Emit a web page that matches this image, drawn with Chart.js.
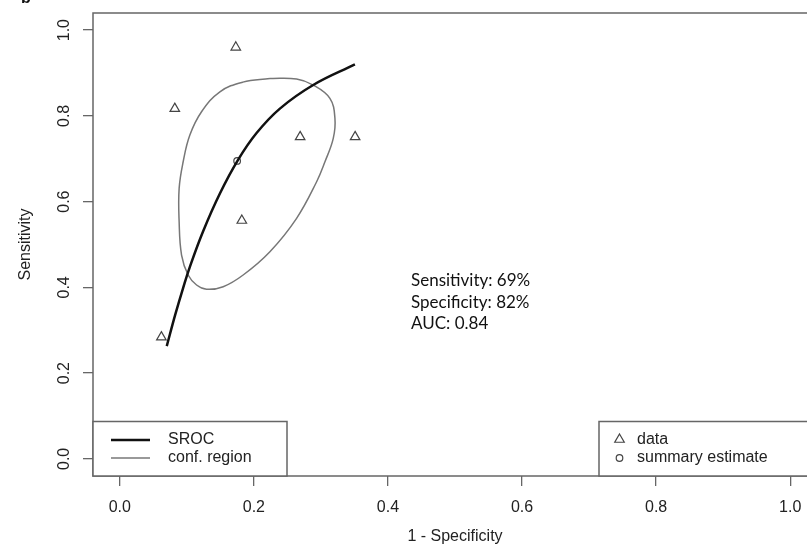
<!DOCTYPE html>
<html>
<head>
<meta charset="utf-8">
<title>SROC</title>
<script src="https://cdn.jsdelivr.net/npm/chart.js@4.4.1/dist/chart.umd.min.js"></script>
<style>
  html, body { margin: 0; padding: 0; background: #fff; overflow: hidden; }
  #wrap { width: 830px; height: 550px; }
</style>
</head>
<body>
<div id="wrap"><canvas id="srocChart" width="830" height="550"></canvas></div>
<script>
// ticks
const xTicks = [0, 0.2, 0.4, 0.6, 0.8, 1.0];
const yTicks = [0, 0.2, 0.4, 0.6, 0.8, 1.0];

// studies (1 - specificity, sensitivity)
const studyFpr  = [0.173, 0.082, 0.269, 0.351, 0.182, 0.062];
const studySens = [0.960, 0.817, 0.751, 0.751, 0.556, 0.284];

// summary estimate
const summaryFpr  = [0.175];
const summarySens = [0.695];

// SROC curve
const srocFpr  = [0.070, 0.083, 0.0945, 0.1045, 0.1243, 0.1493, 0.1766, 0.2040, 0.2388, 0.2885, 0.3507];
const srocSens = [0.263, 0.338, 0.399, 0.448, 0.531, 0.619, 0.698, 0.760, 0.817, 0.872, 0.920];

// confidence region outline (closed)
const regionFpr  = [0.2239, 0.2637, 0.2885, 0.3134, 0.3209, 0.3184, 0.3060, 0.2936, 0.2637, 0.2239, 0.1840, 0.1542, 0.1294, 0.1145, 0.1019, 0.0921, 0.0885, 0.0885, 0.0945, 0.1045, 0.1219, 0.1493, 0.1836, 0.2239];
const regionSens = [0.8874, 0.8858, 0.8718, 0.8408, 0.7942, 0.7476, 0.6930, 0.6464, 0.5611, 0.4832, 0.4289, 0.4016, 0.3956, 0.4056, 0.4289, 0.4755, 0.5531, 0.6310, 0.6930, 0.7552, 0.8096, 0.8562, 0.8788, 0.8874];

const statsLines = ['Sensitivity: 69%', 'Specificity: 82%', 'AUC: 0.84'];
const legendLines = ['SROC', 'conf. region'];
const legendMarks = ['data', 'summary estimate'];

const FONT = 'Liberation Sans, Arial, sans-serif';
const INK = '#222';
const FRAME = '#666';

function toPoints(xs, ys) {
    return xs.map((x, i) => ({ x: x, y: ys[i] }));
}

function triangle(c, x, y, r) {
    c.beginPath();
    c.moveTo(x, y - r);
    c.lineTo(x + r * Math.sin(2 * Math.PI / 3), y + r / 2);
    c.lineTo(x - r * Math.sin(2 * Math.PI / 3), y + r / 2);
    c.closePath();
    c.stroke();
}

// box, legends and the text block
const extras = {
    id: 'extras',
    afterDraw(chart) {
        const c = chart.ctx;
        const a = chart.chartArea;
        c.save();
        c.strokeStyle = FRAME;
        c.lineWidth = 1.5;
        c.strokeRect(a.left, a.top, a.right - a.left, a.bottom - a.top);

        // left legend
        c.fillStyle = '#fff';
        c.fillRect(a.left, 421.5, 194, a.bottom - 421.5);
        c.strokeRect(a.left, 421.5, 194, a.bottom - 421.5);
        c.lineWidth = 2.5;
        c.strokeStyle = '#111';
        c.beginPath(); c.moveTo(111, 440); c.lineTo(150, 440); c.stroke();
        c.lineWidth = 1.5;
        c.strokeStyle = '#777';
        c.beginPath(); c.moveTo(111, 458); c.lineTo(150, 458); c.stroke();
        c.font = '16px ' + FONT;
        c.fillStyle = INK;
        c.textBaseline = 'middle';
        c.textAlign = 'left';
        c.fillText(legendLines[0], 168, 440);
        c.fillText(legendLines[1], 168, 458);

        // right legend
        c.strokeStyle = FRAME;
        c.lineWidth = 1.5;
        c.fillStyle = '#fff';
        c.fillRect(599, 421.5, a.right - 599, a.bottom - 421.5);
        c.strokeRect(599, 421.5, a.right - 599, a.bottom - 421.5);
        c.strokeStyle = '#444';
        c.lineWidth = 1.2;
        triangle(c, 619.5, 439.5, 5.5);
        c.beginPath(); c.arc(619.5, 458, 3.3, 0, Math.PI * 2); c.stroke();
        c.fillStyle = INK;
        c.fillText(legendMarks[0], 637, 440);
        c.fillText(legendMarks[1], 637, 458);

        // summary numbers
        c.font = '17px Lato, "Open Sans", sans-serif';
        c.fillStyle = '#111';
        c.textBaseline = 'alphabetic';
        statsLines.forEach((t, i) => c.fillText(t, 411, 286 + i * 21.5));

        // panel letter (cut off at the top)
        c.font = 'bold 16px ' + FONT;
        c.fillText('b', 21, 3);
        c.restore();
    }
};

const ctx = document.getElementById('srocChart').getContext('2d');
const srocChart = new Chart(ctx, {
    type: 'scatter',
    data: {
        datasets: [
            {
                label: 'SROC',
                data: toPoints(srocFpr, srocSens),
                showLine: true,
                borderColor: '#111',
                borderWidth: 2.5,
                pointRadius: 0,
                tension: 0.4
            },
            {
                label: 'conf. region',
                data: toPoints(regionFpr, regionSens),
                showLine: true,
                borderColor: '#777',
                borderWidth: 1.5,
                pointRadius: 0,
                tension: 0.4
            },
            {
                label: 'data',
                data: toPoints(studyFpr, studySens),
                pointStyle: 'triangle',
                pointRadius: 5.5,
                borderColor: '#444',
                borderWidth: 1.2,
                backgroundColor: 'rgba(0,0,0,0)'
            },
            {
                label: 'summary estimate',
                data: toPoints(summaryFpr, summarySens),
                pointStyle: 'circle',
                pointRadius: 3.3,
                borderColor: '#444',
                borderWidth: 1.2,
                backgroundColor: 'rgba(0,0,0,0)'
            }
        ]
    },
    options: {
        responsive: false,
        animation: false,
        devicePixelRatio: 1,
        layout: { padding: { left: 0, top: 13, right: 13, bottom: 0 } },
        plugins: {
            legend: { display: false },
            tooltip: { enabled: false }
        },
        scales: {
            x: {
                type: 'linear',
                min: -0.04,
                max: 1.04,
                afterBuildTicks: s => { s.ticks = xTicks.map(v => ({ value: v })); },
                afterFit: s => { s.height = 74; s.paddingLeft = 0; s.paddingRight = 0; },
                border: { display: false },
                grid: { drawOnChartArea: false, drawTicks: true, tickLength: 10, color: FRAME, lineWidth: 1.3 },
                ticks: {
                    padding: 12,
                    color: INK,
                    font: { family: FONT, size: 16 },
                    maxRotation: 0,
                    callback: v => Number(v).toFixed(1)
                },
                title: {
                    display: true,
                    text: '1 - Specificity',
                    color: INK,
                    font: { family: FONT, size: 16 },
                    padding: { top: 0, bottom: 4 }
                }
            },
            y: {
                type: 'linear',
                min: -0.04,
                max: 1.04,
                afterBuildTicks: s => { s.ticks = yTicks.map(v => ({ value: v })); },
                afterFit: s => { s.width = 93; s.paddingTop = 0; s.paddingBottom = 0; },
                border: { display: false },
                grid: { drawOnChartArea: false, drawTicks: true, tickLength: 10, color: FRAME, lineWidth: 1.3 },
                ticks: {
                    padding: 7.5,
                    color: INK,
                    font: { family: FONT, size: 16 },
                    minRotation: 90,
                    maxRotation: 90,
                    crossAlign: 'center',
                    callback: v => Number(v).toFixed(1)
                },
                title: {
                    display: true,
                    text: 'Sensitivity',
                    color: INK,
                    font: { family: FONT, size: 16 },
                    padding: { top: 16.4, bottom: 0 }
                }
            }
        }
    },
    plugins: [extras]
});
</script>
</body>
</html>
